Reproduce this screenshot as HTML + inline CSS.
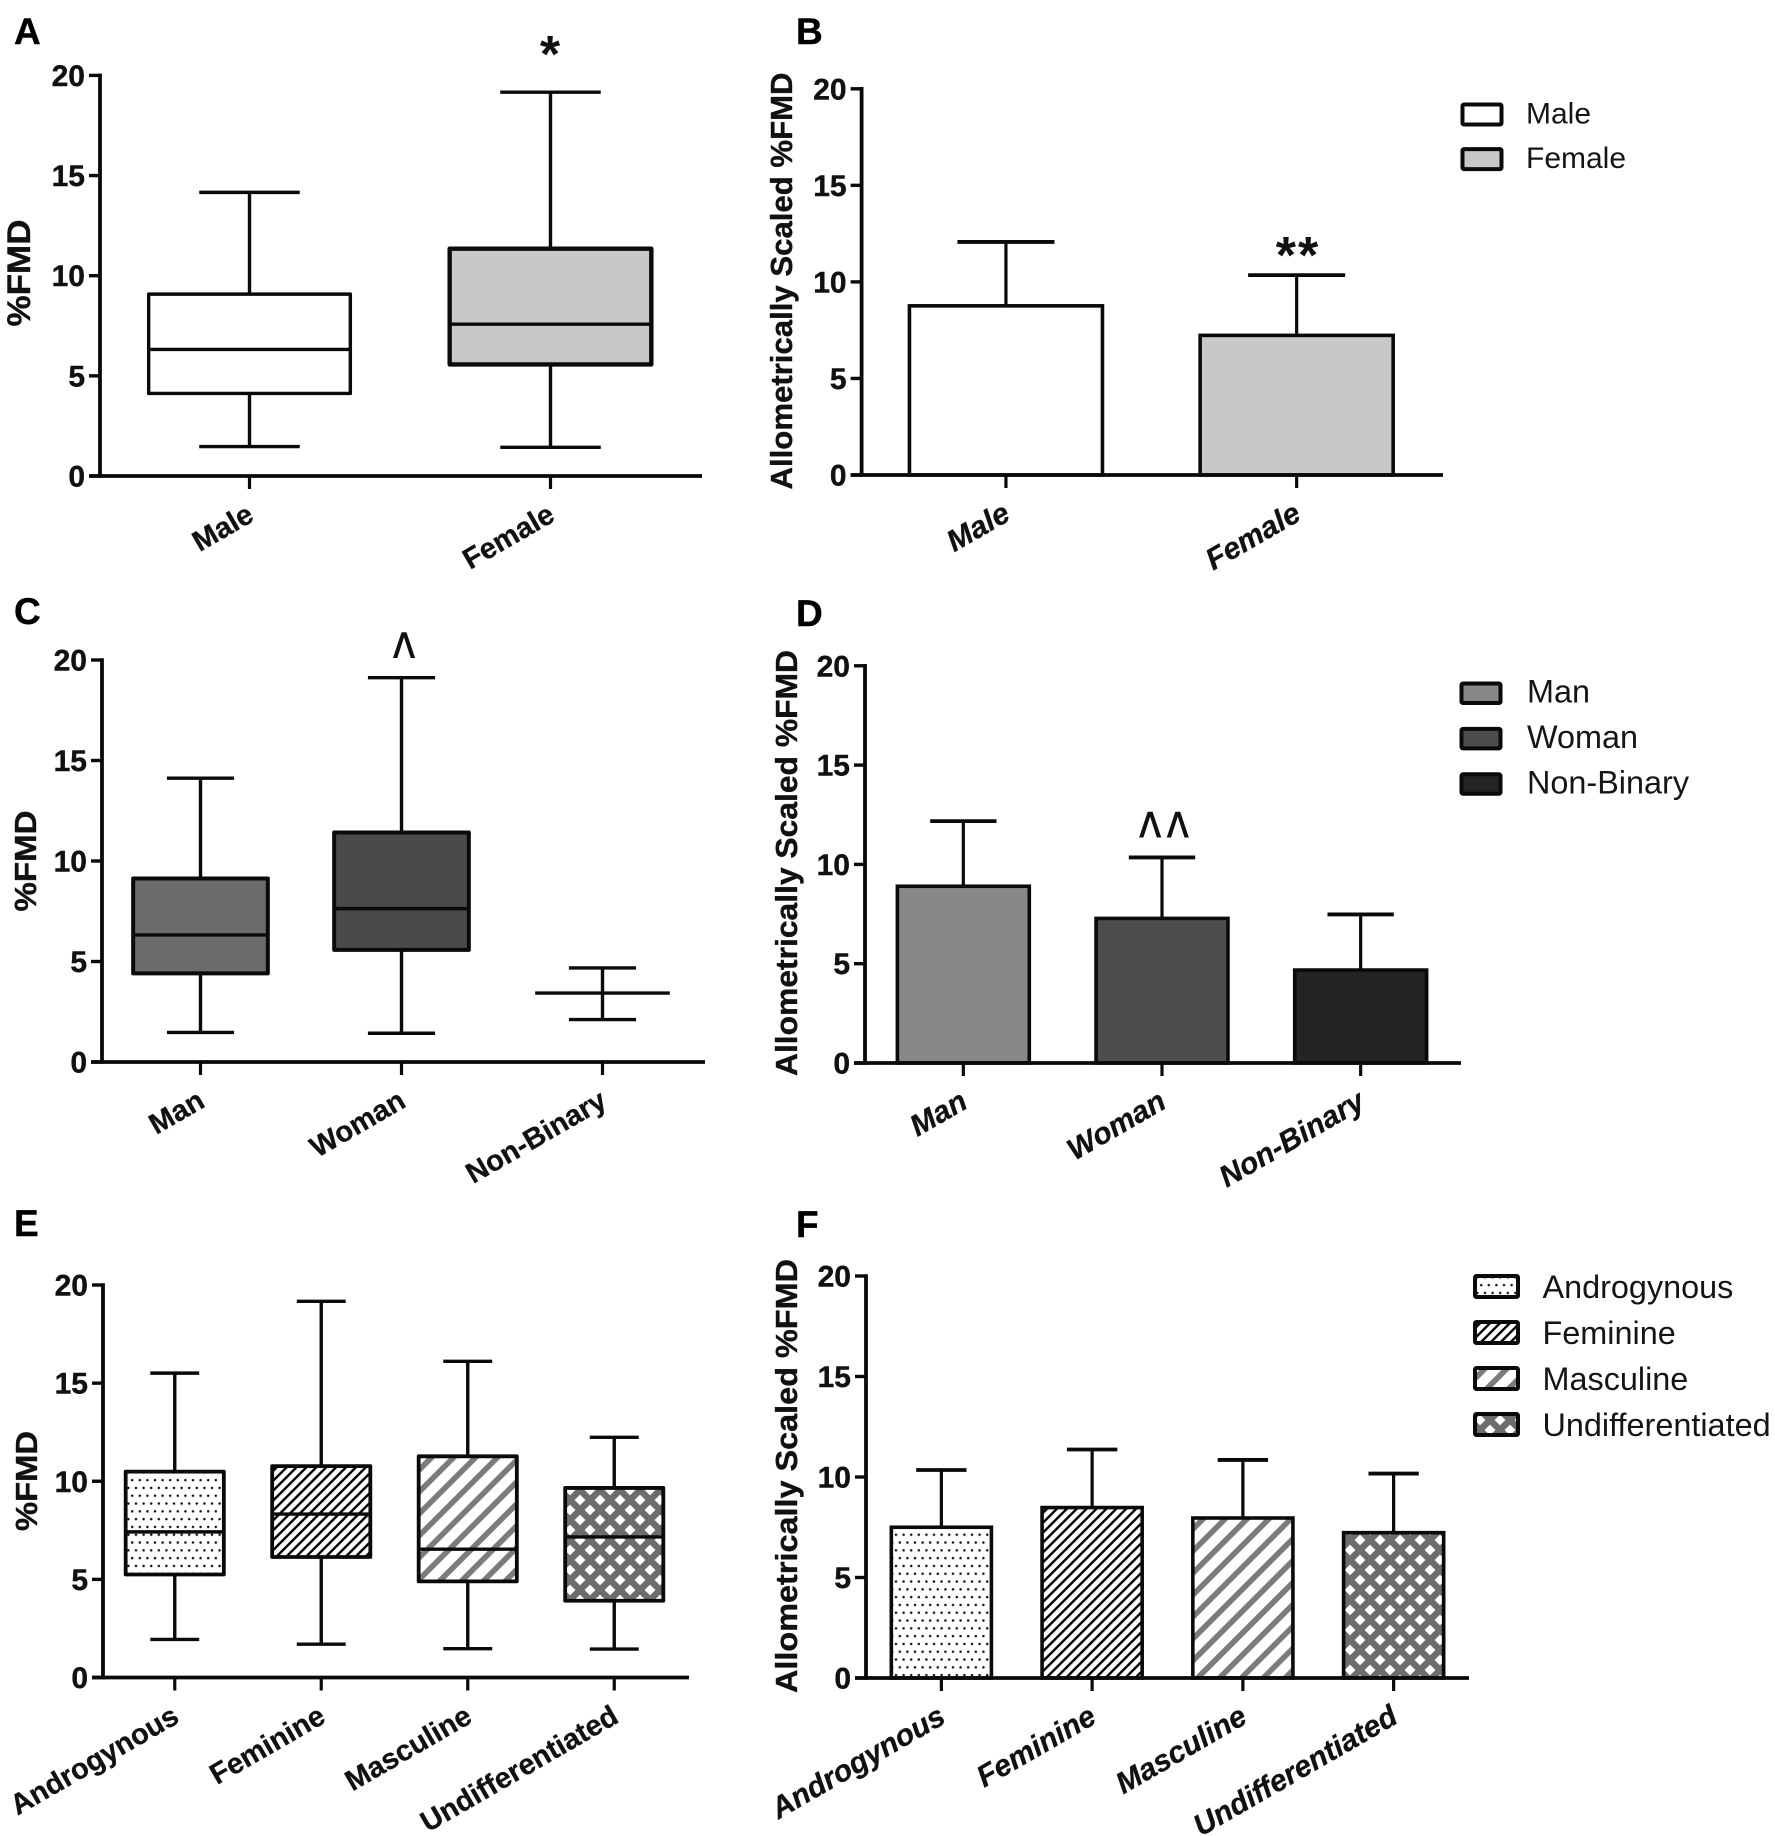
<!DOCTYPE html>
<html lang="en">
<head>
<meta charset="utf-8">
<title>FMD by sex, gender and gender role</title>
<style>
html,body{margin:0;padding:0;background:#fff;}
svg{display:block;font-family:"Liberation Sans",Arial,sans-serif;}
</style>
</head>
<body>
<svg id="figure" xmlns="http://www.w3.org/2000/svg" width="1775" height="1836" viewBox="0 0 1775 1836">
<defs>
<pattern id="dots" patternUnits="userSpaceOnUse" width="15.2" height="15.6" x="3" y="2">
<circle cx="3.8" cy="3.9" r="1.25" fill="#111"/>
<circle cx="11.4" cy="3.9" r="1.25" fill="#111"/>
<circle cx="0" cy="11.7" r="1.25" fill="#111"/>
<circle cx="7.6" cy="11.7" r="1.25" fill="#111"/>
<circle cx="15.2" cy="11.7" r="1.25" fill="#111"/>
</pattern>
<pattern id="hatch" patternUnits="userSpaceOnUse" width="7" height="7" patternTransform="rotate(45)">
<rect x="0" y="0" width="2.4" height="7" fill="#000"/>
</pattern>
<pattern id="wide" patternUnits="userSpaceOnUse" width="15.5" height="15.5" patternTransform="rotate(45)">
<rect x="0" y="0" width="5.6" height="15.5" fill="#7b7b7b"/>
</pattern>
<pattern id="cross" patternUnits="userSpaceOnUse" width="20" height="20">
<rect x="0" y="0" width="20" height="20" fill="#6c6c6c"/>
<polygon points="10,4.6 15.4,10 10,15.4 4.6,10" fill="#fff"/>
<polygon points="0,-5.4 5.4,0 0,5.4 -5.4,0" fill="#fff"/>
<polygon points="20,-5.4 25.4,0 20,5.4 14.6,0" fill="#fff"/>
<polygon points="0,14.6 5.4,20 0,25.4 -5.4,20" fill="#fff"/>
<polygon points="20,14.6 25.4,20 20,25.4 14.6,20" fill="#fff"/>
</pattern>
</defs>
<rect x="0" y="0" width="1775" height="1836" fill="#fff"/>
<g font-size="37" font-weight="700" fill="#000" stroke="#000" stroke-width="0.4">
<text x="14" y="44">A</text>
<text x="796" y="44">B</text>
<text x="14" y="624">C</text>
<text x="796" y="626">D</text>
<text x="14" y="1236">E</text>
<text x="796" y="1237">F</text>
</g>
<g font-weight="700" fill="#111" stroke="#111" stroke-width="0.4" font-size="31" text-anchor="middle">
<text font-size="32" transform="translate(30,273) rotate(-90)" textLength="107" lengthAdjust="spacingAndGlyphs">%FMD</text>
<text transform="translate(792,281) rotate(-90)" textLength="417" lengthAdjust="spacingAndGlyphs">Allometrically Scaled %FMD</text>
<text transform="translate(36,861) rotate(-90)" textLength="101" lengthAdjust="spacingAndGlyphs">%FMD</text>
<text transform="translate(797,863) rotate(-90)" textLength="426" lengthAdjust="spacingAndGlyphs">Allometrically Scaled %FMD</text>
<text transform="translate(37,1481) rotate(-90)" textLength="100" lengthAdjust="spacingAndGlyphs">%FMD</text>
<text transform="translate(797,1476) rotate(-90)" textLength="434" lengthAdjust="spacingAndGlyphs">Allometrically Scaled %FMD</text>
</g>
<g fill="#111">
<text x="550" y="72" font-size="52" font-weight="700" text-anchor="middle">*</text>
<text x="1298" y="273" font-size="52" font-weight="700" text-anchor="middle" letter-spacing="2">**</text>
<text transform="translate(404,680) scale(1,1.5)" font-size="46" stroke="#111" stroke-width="0.6" text-anchor="middle">^</text>
<text transform="translate(1167,859.5) scale(1,1.5)" font-size="46" stroke="#111" stroke-width="0.6" text-anchor="middle" letter-spacing="6">^^</text>
</g>
</svg>
<script>
// ----- Values -----
const yTickValues = [0, 5, 10, 15, 20];

const sexCategories = ['Male', 'Female'];
const sexWhiskerHigh = [14.16, 19.16];
const sexQ3 = [9.08, 11.35];
const sexMedian = [6.32, 7.58];
const sexQ1 = [4.12, 5.57];
const sexWhiskerLow = [1.47, 1.43];
const sexScaledMean = [8.76, 7.23];
const sexScaledUpper = [12.07, 10.35];

const genderCategories = ['Man', 'Woman', 'Non-Binary'];
const genderWhiskerHigh = [14.12, 19.12, 4.68];
const genderQ3 = [9.13, 11.42, 3.43];
const genderMedian = [6.32, 7.63, 3.43];
const genderQ1 = [4.41, 5.58, 3.43];
const genderWhiskerLow = [1.47, 1.43, 2.11];
const genderScaledMean = [8.9, 7.28, 4.68];
const genderScaledUpper = [12.18, 10.35, 7.48];

const roleCategories = ['Androgynous', 'Feminine', 'Masculine', 'Undifferentiated'];
const roleWhiskerHigh = [15.51, 19.17, 16.11, 12.24];
const roleQ3 = [10.49, 10.77, 11.27, 9.66];
const roleMedian = [7.42, 8.33, 6.54, 7.16];
const roleQ1 = [5.25, 6.14, 4.90, 3.91];
const roleWhiskerLow = [1.94, 1.70, 1.47, 1.45];
const roleScaledMean = [7.5, 8.48, 7.96, 7.23];
const roleScaledUpper = [10.35, 11.37, 10.85, 10.17];

// ----- Styling and frame geometry (not data) -----
const sexFills = ['#ffffff', '#c8c8c8'];
const genderBoxFills = ['#6b6b6b', '#4a4a4a', '#2a2a2a'];
const genderBarFills = ['#888888', '#4d4d4d', '#242424'];
const roleFills = ['url(#dots)', 'url(#hatch)', 'url(#wide)', 'url(#cross)'];

const frameA = {id: 'a', left: 100, right: 702, top: 75.4, bottom: 476, shift: -1};
const frameB = {id: 'b', left: 861.6, right: 1443, top: 88.8, bottom: 475, shift: -1};
const frameC = {id: 'c', left: 102, right: 705, top: 660, bottom: 1062, shift: -2};
const frameD = {id: 'd', left: 865, right: 1461, top: 665.8, bottom: 1063, shift: -1};
const frameE = {id: 'e', left: 103, right: 689, top: 1285, bottom: 1677.5, shift: -1.5};
const frameF = {id: 'f', left: 866, right: 1469, top: 1276, bottom: 1678, shift: 0};

const NS = 'http://www.w3.org/2000/svg';
const root = document.getElementById('figure');
const INK = '#0a0a0a';

function mk(parent, tag, attrs, name, text) {
  const el = document.createElementNS(NS, tag);
  for (const k in attrs) el.setAttribute(k, attrs[k]);
  
  
  if (text !== undefined) el.textContent = text;
  parent.appendChild(el);
  return el;
}

function yScale(frame, v) {
  return frame.bottom - (v / 20) * (frame.bottom - frame.top);
}
function band(frame, n) {
  return (frame.right - frame.left) / n;
}
function xScale(frame, n, i) {
  return frame.left + frame.shift + (i + 0.5) * band(frame, n);
}
function hline(g, x1, x2, y, w, name) {
  return mk(g, 'line', {x1: x1, x2: x2, y1: y, y2: y, stroke: INK, 'stroke-width': w}, name);
}
function vline(g, x, y1, y2, w, name) {
  return mk(g, 'line', {x1: x, x2: x, y1: y1, y2: y2, stroke: INK, 'stroke-width': w}, name);
}

function drawAxes(g, frame, cats, slanted) {
  const tick = 11;
  vline(g, frame.left, frame.top - 1.75, frame.bottom + 1.75, 3.8, 'y-axis-line');
  hline(g, frame.left - tick, frame.right, frame.bottom, 3.8, 'x-axis-line');
  yTickValues.forEach(function (v) {
    const y = yScale(frame, v);
    hline(g, frame.left - tick, frame.left, y, 3.4, 'y-tick');
    mk(g, 'text', {
      x: frame.left - tick - 4, y: y + 10.5, 'text-anchor': 'end',
      'font-size': 30, 'font-weight': 700, fill: '#111', stroke: '#111', 'stroke-width': 0.4
    }, 'y-tick-label', String(v));
  });
  cats.forEach(function (c, i) {
    const x = xScale(frame, cats.length, i);
    vline(g, x, frame.bottom, frame.bottom + 13, 3.2, 'x-tick');
    const attrs = {
      transform: 'translate(' + (x + 6) + ',' + (frame.bottom + 44) + ') rotate(-30)',
      'text-anchor': 'end', 'font-size': slanted ? 30 : 29, 'font-weight': 700, fill: '#111',
      stroke: '#111', 'stroke-width': 0.3
    };
    if (slanted) attrs['font-style'] = 'italic';
    mk(g, 'text', attrs, 'x-tick-label', c);
  });
}

function drawBoxes(frame, cats, high, q3, med, q1, low, fills, widths) {
  const g = mk(root, 'g', {}, 'box-plot-' + frame.id);
  const n = cats.length;
  const b = band(frame, n);
  cats.forEach(function (c, i) {
    const x = xScale(frame, n, i);
    const sw = widths[i];
    const key = c.toLowerCase();
    vline(g, x, yScale(frame, high[i]), yScale(frame, low[i]), 3.4, 'whisker-' + key);
    hline(g, x - b * 0.167, x + b * 0.167, yScale(frame, high[i]), 3.4, 'whisker-cap-high-' + key);
    hline(g, x - b * 0.167, x + b * 0.167, yScale(frame, low[i]), 3.4, 'whisker-cap-low-' + key);
    const top = yScale(frame, q3[i]);
    const bot = yScale(frame, q1[i]);
    if (bot - top > 0.5) {
      mk(g, 'rect', {
        x: x - b * 0.335, y: top, width: b * 0.67, height: bot - top,
        fill: '#fff', stroke: 'none'
      }, 'box-backing-' + key);
      mk(g, 'rect', {
        x: x - b * 0.335, y: top, width: b * 0.67, height: bot - top,
        fill: fills[i], stroke: INK, 'stroke-width': sw, 'stroke-linejoin': 'round'
      }, 'box-' + key);
    }
    hline(g, x - b * 0.335, x + b * 0.335, yScale(frame, med[i]), 3.4, 'median-' + key);
  });
  drawAxes(g, frame, cats, false);
}

function drawBars(frame, cats, mean, upper, fills) {
  const g = mk(root, 'g', {}, 'bar-chart-' + frame.id);
  const n = cats.length;
  const b = band(frame, n);
  cats.forEach(function (c, i) {
    const x = xScale(frame, n, i);
    const key = c.toLowerCase();
    vline(g, x, yScale(frame, upper[i]), yScale(frame, mean[i]), 3.2, 'error-bar-' + key);
    hline(g, x - b * 0.167, x + b * 0.167, yScale(frame, upper[i]), 3.8, 'error-cap-' + key);
    const top = yScale(frame, mean[i]);
    mk(g, 'rect', {
      x: x - b * 0.332, y: top, width: b * 0.664, height: frame.bottom - top,
      fill: '#fff', stroke: 'none'
    }, 'bar-backing-' + key);
    mk(g, 'rect', {
      x: x - b * 0.332, y: top, width: b * 0.664, height: frame.bottom - top,
      fill: fills[i], stroke: INK, 'stroke-width': 3.6
    }, 'bar-' + key);
  });
  drawAxes(g, frame, cats, true);
}

function drawLegend(id, cats, fills, boxX, boxW, boxY, boxH, step, textX, textDy, size) {
  const g = mk(root, 'g', {}, 'legend-' + id);
  cats.forEach(function (c, i) {
    const y = boxY + i * step;
    const key = c.toLowerCase();
    mk(g, 'rect', {x: boxX + 2, y: y + 2, width: boxW - 4, height: boxH - 4, fill: '#fff'}, 'legend-backing-' + key);
    mk(g, 'rect', {
      x: boxX + 2, y: y + 2, width: boxW - 4, height: boxH - 4, rx: 1.5,
      fill: fills[i], stroke: INK, 'stroke-width': 4
    }, 'legend-swatch-' + key);
    mk(g, 'text', {x: textX, y: y + textDy, 'font-size': size, fill: '#151515'}, 'legend-label-' + key, c);
  });
}

drawBoxes(frameA, sexCategories, sexWhiskerHigh, sexQ3, sexMedian, sexQ1, sexWhiskerLow, sexFills, [3.4, 4.4]);
drawBars(frameB, sexCategories, sexScaledMean, sexScaledUpper, sexFills);
drawLegend('b', sexCategories, sexFills, 1460.5, 43, 102.5, 24, 44.6, 1526, 21, 30);

drawBoxes(frameC, genderCategories, genderWhiskerHigh, genderQ3, genderMedian, genderQ1, genderWhiskerLow, genderBoxFills, [4, 4, 4]);
drawBars(frameD, genderCategories, genderScaledMean, genderScaledUpper, genderBarFills);
drawLegend('d', genderCategories, genderBarFills, 1459.5, 43, 681.5, 23.5, 45.4, 1527, 21, 32.4);

drawBoxes(frameE, roleCategories, roleWhiskerHigh, roleQ3, roleMedian, roleQ1, roleWhiskerLow, roleFills, [3.8, 3.8, 3.8, 3.8]);
drawBars(frameF, roleCategories, roleScaledMean, roleScaledUpper, roleFills);
drawLegend('f', roleCategories, roleFills, 1473, 47, 1274, 25, 46, 1542.5, 24, 32.4);
</script>
</body>
</html>
